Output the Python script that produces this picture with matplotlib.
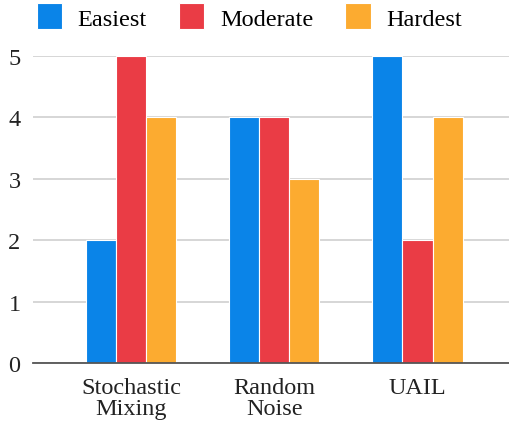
import matplotlib.pyplot as plt
import numpy as np

plt.rcParams["font.family"] = ["Liberation Serif", "DejaVu Serif"]

categories = ["Stochastic\nMixing", "Random\nNoise", "UAIL"]
easiest = [2, 4, 5]
moderate = [5, 4, 2]
hardest = [4, 3, 4]
series = [("Easiest", easiest, "#0a84e8"),
          ("Moderate", moderate, "#ea3c45"),
          ("Hardest", hardest, "#fcab30")]

fig = plt.figure(figsize=(5.1, 4.27), dpi=100)
ax = fig.add_axes([0.0647, 0.1475, 0.9353, 0.719])

x = np.arange(len(categories))
w = 0.21
for i, (name, vals, col) in enumerate(series):
    ax.bar(x + (i - 1) * w, vals, width=w, color=col, edgecolor="white",
           linewidth=0.8, label=name, zorder=3, clip_on=False)

ax.set_xlim(-0.684, 2.646)
ax.set_ylim(0, 5)
ax.set_yticks(range(6))
ax.yaxis.grid(True, color="#d0d0d0", linewidth=1.2, zorder=0)
ax.set_xticks(x)
ax.set_xticklabels(categories, fontsize=17.5, color="#222222", linespacing=1.0)
ax.tick_params(axis="y", labelsize=17.5, colors="#222222", length=0, pad=9)
ax.tick_params(axis="x", length=0, pad=10)
for s in ["top", "right", "left"]:
    ax.spines[s].set_visible(False)
ax.spines["bottom"].set_color("#555555")
ax.spines["bottom"].set_linewidth(1.3)
ax.spines["bottom"].set_zorder(4)

fig.legend(loc="upper left", bbox_to_anchor=(0.029, 1.041), ncol=3, frameon=False,
           fontsize=17.5, handlelength=1.03, handleheight=1.27, columnspacing=1.32,
           handletextpad=0.66)

plt.savefig("out.png", dpi=100)
